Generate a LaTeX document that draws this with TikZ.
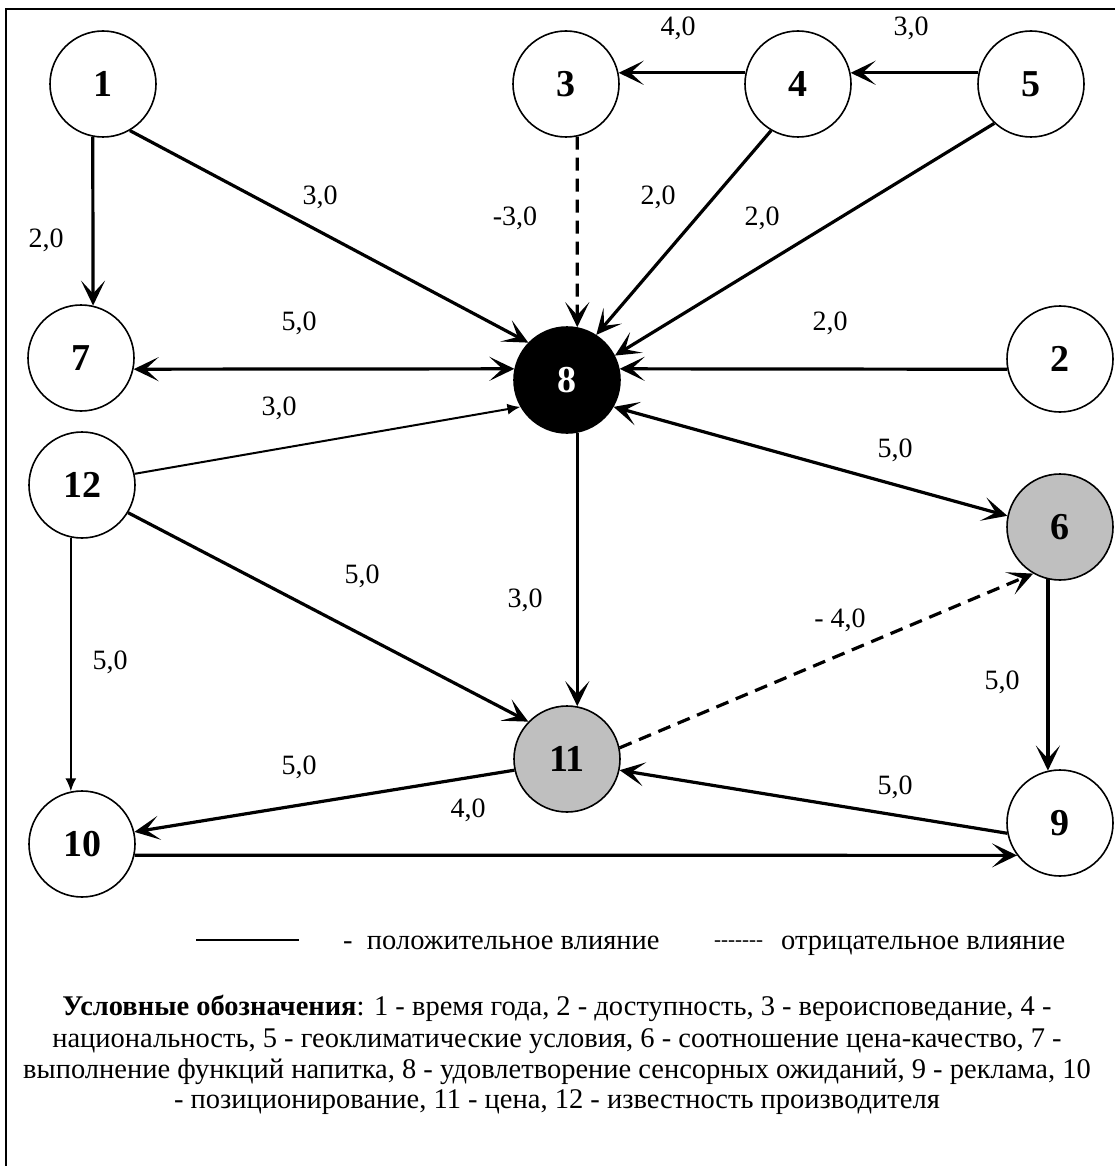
\documentclass[tikz,border=0pt]{standalone}
\usepackage{fontspec}
\setmainfont{Liberation Serif}
\usetikzlibrary{arrows.meta}
\begin{document}
\begin{tikzpicture}[x=1pt,y=-1pt,
  vert/.style={circle,draw,line width=1.6pt,minimum size=106pt,inner sep=0pt,
    font=\fontsize{38}{38}\selectfont\bfseries},
  blackv/.style={vert,fill=black,text=white},
  grayv/.style={vert,fill=gray!50},
  lbl/.style={font=\fontsize{28}{28}\selectfont,inner sep=0pt},
  legline/.style={font=\fontsize{28.5}{31}\selectfont,inner sep=0pt,anchor=base},
  arr/.style={line width=3.2pt,-{Stealth[length=25pt,width=24pt,inset=13pt]}},
  biarr/.style={line width=3.2pt,{Stealth[length=25pt,width=24pt,inset=13pt]}-{Stealth[length=25pt,width=24pt,inset=13pt]}},
  thinarr/.style={line width=2pt,-{Latex[length=13pt,width=11pt]}},
  negarr/.style={arr,dash pattern=on 13pt off 8pt},
  frameline/.style={line width=1.6pt}
]
\useasboundingbox (0,0) rectangle (1115,1166);
% frame
\coordinate (ftl) at (6,9);
\coordinate (ftr) at (1115,9);
\coordinate (fbl) at (6,1166);
\draw[frameline] (ftr) -- (ftl) -- (fbl);

% nodes
\node[vert] (n1) at (103,84) {1};
\node[vert] (n3) at (566,84) {3};
\node[vert] (n4) at (798,84) {4};
\node[vert] (n5) at (1031,84) {5};
\node[vert] (n7) at (81,358) {7};
\node[blackv] (n8) at (567,380) {8};
\node[vert] (n2) at (1060,359) {2};
\node[vert] (n12) at (82,485) {12};
\node[grayv] (n6) at (1060,527) {6};
\node[grayv] (n11) at (567,759) {11};
\node[vert] (n10) at (82,844) {10};
\node[vert] (n9) at (1060,823) {9};

% edges
\draw[arr] (n1.259) -- (n7.77);
\draw[arr] (n1.300) -- (n8.136);
\draw[negarr] (n3.282) -- (n8.79);
\draw[arr] (n4.168) -- (n3.12);
\draw[arr] (n5.168) -- (n4.12);
\draw[arr] (n4.240) -- (n8.57);
\draw[arr] (n5.227) -- (n8.27);
\draw[arr] (n2.191) -- (n8.12);
\draw[biarr] (n7.348) -- (n8.168);
\draw[thinarr] (n12.12) -- (n8.210);
\draw[arr] (n12.329) -- (n11.136);
\draw[thinarr] (n12.258) -- (n10.102);
\draw[arr] (n8.281) -- (n11.79);
\draw[biarr] (n8.330) -- (n6.168);
\draw[negarr] (n11.12) -- (n6.240);
\draw[arr] (n6.257) -- (n9.103);
\draw[arr] (n9.191) -- (n11.348);
\draw[arr] (n11.192) -- (n10.13);
\draw[arr] (n10.348) -- (n9.217);

% labels
\node[lbl] (l43) at (678,28) {4,0};
\node[lbl] (l54) at (911,28) {3,0};
\node[lbl] (l18) at (320,197) {3,0};
\node[lbl] (l17) at (46,240) {2,0};
\node[lbl] (l38) at (515,218) {-3,0};
\node[lbl] (l48) at (658,197) {2,0};
\node[lbl] (l58) at (762,218) {2,0};
\node[lbl] (l78) at (299,323) {5,0};
\node[lbl] (l28) at (830,323) {2,0};
\node[lbl] (l128) at (279,408) {3,0};
\node[lbl] (l86) at (895,450) {5,0};
\node[lbl] (l1211) at (362,576) {5,0};
\node[lbl] (l811) at (525,600) {3,0};
\node[lbl] (l116) at (840,620) {- 4,0};
\node[lbl] (l1210) at (110,662) {5,0};
\node[lbl] (l69) at (1002,682) {5,0};
\node[lbl] (l1110) at (299,767) {5,0};
\node[lbl] (l911) at (895,787) {5,0};
\node[lbl] (l109) at (468,810) {4,0};

% legend
\coordinate (lga) at (196,940);
\coordinate (lgb) at (299,940);
\draw[line width=2pt] (lga) -- (lgb);
\node[legline,anchor=base west] (lpos) at (343,949) {-\ \ положительное влияние};
\node[font=\fontsize{21}{21}\selectfont,inner sep=0pt,anchor=base west] (lneg) at (714,946) {-{}-{}-{}-{}-{}-{}-};
\node[legline,anchor=base west] (lnegt) at (781,949) {отрицательное влияние};

\node[legline] (leg1) at (557,1015) {\textbf{Условные обозначения}: 1 - время года, 2 - доступность, 3 - вероисповедание, 4 -};
\node[legline] (leg2) at (557,1047) {национальность, 5 - геоклиматические условия, 6 - соотношение цена-качество, 7 -};
\node[legline] (leg3) at (557,1078) {выполнение функций напитка, 8 - удовлетворение сенсорных ожиданий, 9 - реклама, 10};
\node[legline] (leg4) at (557,1108) {- позиционирование, 11 - цена, 12 - известность производителя};
\end{tikzpicture}
\end{document}
